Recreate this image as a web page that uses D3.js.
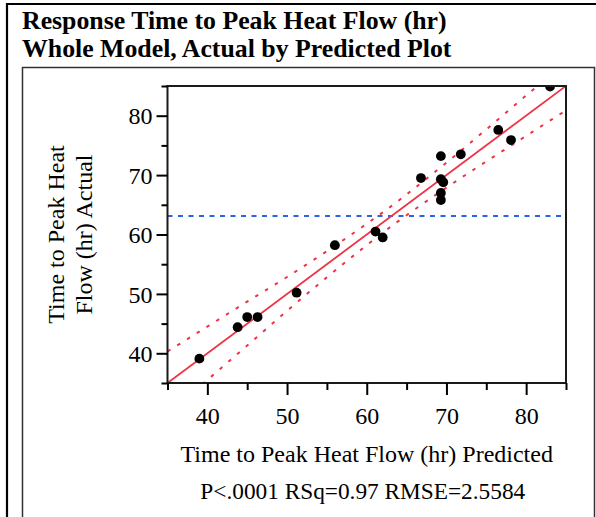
<!DOCTYPE html>
<html><head><meta charset="utf-8">
<script src="https://cdn.jsdelivr.net/npm/d3@7/dist/d3.min.js"></script>
<style>body{margin:0;background:#fff}svg{display:block}</style>
</head><body>
<svg id="c" width="596" height="517"></svg>
<script>
const titleLines = ["Response Time to Peak Heat Flow (hr)", "Whole Model, Actual by Predicted Plot"];
const xTitle = "Time to Peak Heat Flow (hr) Predicted";
const yTitleLines = ["Time to Peak Heat", "Flow (hr) Actual"];
const statsText = "P<.0001 RSq=0.97 RMSE=2.5584";
const predicted = [39.0, 43.8, 45.0, 46.3, 51.2, 56.0, 61.1, 62.0, 66.8, 69.3, 69.3, 69.6, 69.3, 69.3, 71.8, 76.5, 78.1, 83.0];
const actual    = [39.1, 44.4, 46.1, 46.1, 50.2, 58.2, 60.5, 59.5, 69.5, 73.2, 69.3, 68.8, 67.0, 65.8, 73.5, 77.6, 75.9, 84.9];
const fitX = [35, 85];
const fitY = [35, 85];
const bandX     = [35, 40, 45, 50, 55, 60, 63, 65, 70, 75, 80, 85];
const bandUpper = [40.3, 44.5, 48.7, 52.85, 57.2, 61.8, 64.7, 66.75, 72.1, 77.7, 83.4, 89.1];
const bandLower = [29.7, 35.5, 41.3, 47.15, 52.8, 58.2, 61.3, 63.25, 67.9, 72.3, 76.6, 80.9];
const meanActual = 63.1;
const xTicks = [40, 50, 60, 70, 80];
const yTicks = [40, 50, 60, 70, 80];
const minorTicks = [35, 45, 55, 65, 75, 85];

const svg = d3.select("#c");
const font = "'Liberation Serif', 'Times New Roman', serif";
const L = 167.5, R = 566, T = 86, B = 383;
const x = d3.scaleLinear().domain([35, 85]).range([L, R]);
const y = d3.scaleLinear().domain([35, 85]).range([B, T]);

// outer frame
svg.append("line").attr("x1", 7).attr("x2", 7).attr("y1", 3).attr("y2", 517).attr("stroke", "#000").attr("stroke-width", 2.2);
svg.append("line").attr("x1", 6).attr("x2", 596).attr("y1", 4).attr("y2", 4).attr("stroke", "#000").attr("stroke-width", 2.2);
// inner box
svg.append("path").attr("d", "M22.5,517 V67.5 H594.5 V517").attr("fill", "none").attr("stroke", "#333").attr("stroke-width", 1.5);

// title
svg.selectAll("text.title").data(titleLines).join("text")
  .attr("x", 22).attr("y", (d, i) => 29 + i * 28)
  .attr("font-family", font).attr("font-weight", "bold").attr("font-size", 25.8)
  .attr("fill", "#000").text(d => d);

const clipId = "plotclip";
svg.append("defs").append("clipPath").attr("id", clipId)
  .append("rect").attr("x", L).attr("y", T).attr("width", R - L).attr("height", B - T);
const g = svg.append("g").attr("clip-path", `url(#${clipId})`);

// mean line
g.append("line").attr("x1", L).attr("x2", R).attr("y1", y(meanActual)).attr("y2", y(meanActual))
  .attr("stroke", "#2a62e8").attr("stroke-width", 2).attr("stroke-dasharray", "5,5.5");

// confidence curves
const bandLine = (vals) => d3.line().x((d, i) => x(bandX[i])).y(d => y(d)).curve(d3.curveMonotoneX)(vals);
[bandUpper, bandLower].forEach(v => {
  g.append("path").attr("d", bandLine(v)).attr("fill", "none")
    .attr("stroke", "#ee3345").attr("stroke-width", 2).attr("stroke-dasharray", "3.5,8");
});
// fit line
g.append("path").attr("d", d3.line().x((d, i) => x(fitX[i])).y(d => y(d))(fitY))
  .attr("fill", "none").attr("stroke", "#ee3345").attr("stroke-width", 1.8);

// points
g.selectAll("circle").data(predicted).join("circle")
  .attr("cx", d => x(d)).attr("cy", (d, i) => y(actual[i])).attr("r", 4.9).attr("fill", "#000");

// frame
svg.append("rect").attr("x", L).attr("y", T).attr("width", R - L).attr("height", B - T)
  .attr("fill", "none").attr("stroke", "#1a1a1a").attr("stroke-width", 2);

// x axis
const xAxis = svg.append("g").attr("transform", `translate(0,${B})`)
  .call(d3.axisBottom(x).tickValues(xTicks).tickSize(12).tickFormat(d3.format("d")));
svg.append("g").attr("transform", `translate(0,${B})`)
  .call(d3.axisBottom(x).tickValues(minorTicks).tickSize(7).tickFormat(""));
// y axis
const yAxis = svg.append("g").attr("transform", `translate(${L},0)`)
  .call(d3.axisLeft(y).tickValues(yTicks).tickSize(11).tickFormat(d3.format("d")));
svg.append("g").attr("transform", `translate(${L},0)`)
  .call(d3.axisLeft(y).tickValues(minorTicks).tickSize(6).tickFormat(""));
svg.selectAll(".domain").remove();
svg.selectAll(".tick line").attr("stroke", "#000").attr("stroke-width", 2);
svg.selectAll(".tick text").attr("font-family", font).attr("font-size", 24).attr("fill", "#000");
xAxis.selectAll(".tick text").attr("dy", "0.71em").attr("y", 24);
yAxis.selectAll(".tick text").attr("x", -15).attr("dy", "0.34em");

// axis titles
svg.append("text").attr("x", (L + R) / 2).attr("y", 462).attr("text-anchor", "middle")
  .attr("font-family", font).attr("font-size", 24).attr("fill", "#000").text(xTitle);
svg.append("text").attr("x", (L + R) / 2 - 4).attr("y", 499).attr("text-anchor", "middle")
  .attr("font-family", font).attr("font-size", 23.3).attr("fill", "#000").text(statsText);
svg.selectAll("text.yt").data(yTitleLines).join("text")
  .attr("transform", (d, i) => `translate(${64 + i * 28},${(T + B) / 2}) rotate(-90)`)
  .attr("text-anchor", "middle")
  .attr("font-family", font).attr("font-size", 24).attr("fill", "#000").text(d => d);
</script>
</body></html>
